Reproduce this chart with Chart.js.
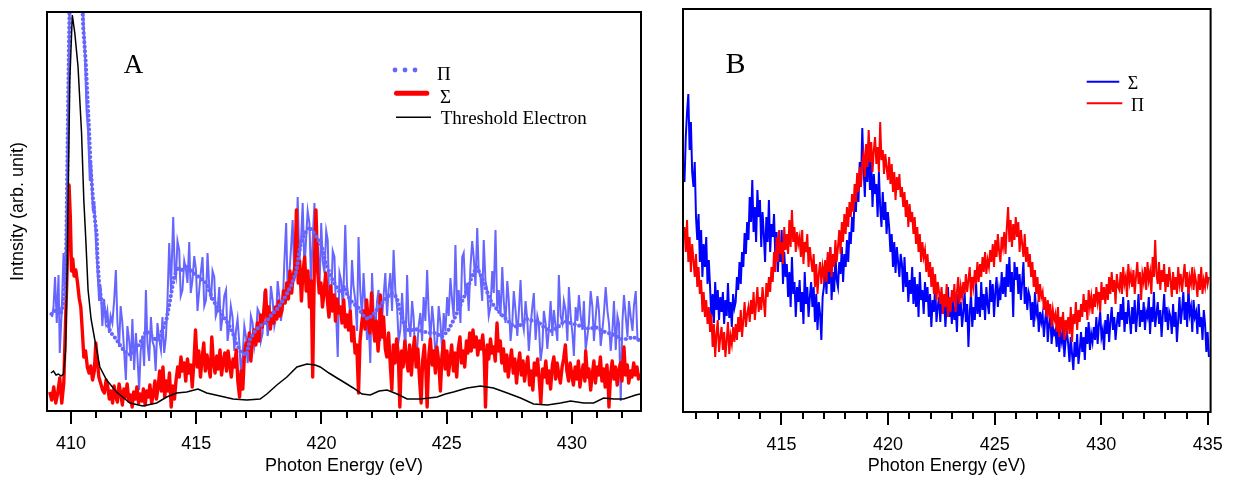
<!DOCTYPE html>
<html><head><meta charset="utf-8">
<script src="https://cdn.jsdelivr.net/npm/chart.js@4.4.1/dist/chart.umd.min.js"></script>
<style>
html,body{margin:0;padding:0;background:#fff;}
#wrap{position:relative;width:1238px;height:479px;overflow:hidden;background:#fff;}
#cA{position:absolute;left:0;top:0;}
#cB{position:absolute;left:660px;top:0;}
</style></head><body>
<div id="wrap"><canvas id="cA" width="660" height="479"></canvas><canvas id="cB" width="578" height="479"></canvas></div>
<script>
// ---------- Tick labels ----------
const A_TICK_LABELS = [410, 415, 420, 425, 430];
const B_TICK_LABELS = [415, 420, 425, 430, 435];

// ---------- Panel A data: [energy, intensity] pairs ----------
const piRawA = [
409.24,94, 409.30,104, 409.36,134, 409.43,88, 409.50,136, 409.55,58, 409.63,101, 409.70,158, 409.76,120, 409.83,200,
409.90,330, 409.96,430, 410.10,460, 410.30,450, 410.45,420, 410.55,360, 410.62,300, 410.68,280, 410.75,230, 410.80,250,
410.87,200, 410.93,210, 410.99,170, 411.05,144, 411.12,110, 411.18,125, 411.25,85, 411.32,112, 411.38,90, 411.45,100,
411.52,78, 411.58,95, 411.65,88, 411.72,110, 411.79,141, 411.85,90, 411.92,64, 411.98,105, 412.05,88, 412.12,60,
412.19,31, 412.25,85, 412.32,71, 412.39,50, 412.45,92, 412.52,41, 412.59,78, 412.65,55, 412.72,21, 412.78,60,
412.85,74, 412.92,45, 412.99,121, 413.05,68, 413.12,50, 413.19,94, 413.25,70, 413.32,64, 413.38,40, 413.45,88,
413.52,72, 413.59,61, 413.65,94, 413.72,58, 413.79,74, 413.85,110, 413.92,168, 413.99,121, 414.08,194, 414.14,140,
414.19,134, 414.25,170, 414.32,161, 414.38,115, 414.45,121, 414.52,150, 414.59,141, 414.65,128, 414.72,169, 414.78,118,
414.85,131, 414.92,155, 414.99,141, 415.05,100, 415.12,121, 415.18,138, 415.25,154, 415.32,105, 415.39,111, 415.45,158,
415.52,125, 415.59,111, 415.65,140, 415.72,134, 415.78,95, 415.85,101, 415.92,124, 415.98,80, 416.05,94, 416.12,115,
416.19,121, 416.25,70, 416.32,84, 416.38,105, 416.45,94, 416.52,60, 416.59,81, 416.65,92, 416.72,68, 416.78,40,
416.85,54, 416.92,85, 416.99,74, 417.05,48, 417.12,61, 417.18,95, 417.25,88, 417.32,65, 417.39,78, 417.45,102,
417.52,98, 417.58,70, 417.65,78, 417.72,120, 417.79,104, 417.85,75, 417.92,88, 417.98,125, 418.05,111, 418.12,85,
418.19,94, 418.25,130, 418.32,114, 418.38,90, 418.45,104, 418.52,150, 418.59,188, 418.65,120, 418.72,138, 418.79,165,
418.85,191, 418.92,130, 418.99,154, 419.05,214, 419.12,150, 419.19,174, 419.25,208, 419.32,140, 419.39,174, 419.45,200,
419.52,188, 419.58,130, 419.65,171, 419.72,208, 419.78,145, 419.85,168, 419.92,120, 419.99,188, 420.05,150, 420.12,138,
420.19,180, 420.25,171, 420.32,95, 420.39,114, 420.45,160, 420.52,154, 420.58,100, 420.65,54, 420.72,138, 420.79,130,
420.86,100, 420.95,186, 421.02,125, 421.08,114, 421.15,95, 421.22,151, 421.28,125, 421.35,111, 421.42,80, 421.48,174,
421.55,120, 421.62,94, 421.68,138, 421.75,105, 421.82,71, 421.88,92, 421.95,48, 422.02,138, 422.08,100, 422.15,81,
422.22,110, 422.28,121, 422.35,70, 422.42,91, 422.48,115, 422.55,138, 422.62,95, 422.68,121, 422.75,138, 422.82,100,
422.88,161, 422.95,120, 423.02,104, 423.08,70, 423.15,81, 423.22,118, 423.28,88, 423.35,60, 423.42,136, 423.48,90,
423.55,74, 423.62,110, 423.68,94, 423.75,50, 423.82,61, 423.88,85, 423.95,98, 424.02,70, 424.08,114, 424.15,90,
424.22,141, 424.28,100, 424.35,71, 424.42,105, 424.48,88, 424.55,55, 424.62,71, 424.68,105, 424.75,88, 424.82,60,
424.88,98, 424.95,80, 425.02,114, 425.08,95, 425.15,133, 425.22,110, 425.28,94, 425.35,166, 425.42,100, 425.48,121,
425.55,88, 425.62,154, 425.68,158, 425.75,115, 425.82,128, 425.88,100, 425.95,144, 426.02,170, 426.08,154, 426.15,125,
426.22,183, 426.28,140, 426.35,134, 426.42,110, 426.48,171, 426.55,130, 426.62,121, 426.68,95, 426.75,104, 426.82,140,
426.88,118, 426.95,181, 427.02,100, 427.08,121, 427.15,95, 427.22,144, 427.28,110, 427.35,88, 427.42,130, 427.48,111,
427.55,70, 427.62,88, 427.68,120, 427.75,101, 427.82,75, 427.88,98, 427.95,131, 428.02,90, 428.08,81, 428.15,110,
428.22,91, 428.28,60, 428.35,85, 428.42,104, 428.48,118, 428.55,71, 428.62,95, 428.68,88, 428.75,50, 428.82,64,
428.88,100, 428.95,88, 429.02,62, 429.08,81, 429.15,110, 429.22,75, 429.28,101, 429.35,85, 429.42,70, 429.48,136,
429.55,95, 429.62,88, 429.68,110, 429.75,101, 429.82,70, 429.88,124, 429.95,95, 430.02,78, 430.08,55, 430.15,104,
430.22,90, 430.28,116, 430.35,95, 430.42,81, 430.48,110, 430.55,61, 430.62,75, 430.68,88, 430.75,120, 430.82,104,
430.88,70, 430.95,94, 431.02,115, 431.08,101, 431.15,65, 431.22,81, 431.28,98, 431.35,124, 431.42,100, 431.48,88,
431.55,60, 431.62,81, 431.68,110, 431.75,61, 431.82,95, 431.88,88, 431.95,10, 432.02,90, 432.08,116, 432.15,95,
432.22,74, 432.28,110, 432.35,94, 432.42,80, 432.48,106, 432.55,120, 432.62,71, 432.68,71
];

const piSmoothA = [
409.22,97, 409.35,100, 409.48,102, 409.60,98, 409.70,108, 409.76,125, 409.80,150, 409.84,220, 409.88,300, 409.92,370,
409.96,430, 410.10,470, 410.30,470, 410.45,410, 410.48,386, 410.59,348, 410.66,311, 410.72,281, 410.78,244, 410.88,211,
410.96,190, 411.02,178, 411.06,150, 411.12,128, 411.19,114, 411.30,104, 411.39,98, 411.46,86, 411.60,78, 411.80,72,
412.00,64, 412.20,58, 412.40,56, 412.60,62, 412.80,70, 413.00,80, 413.20,76, 413.40,70, 413.60,78, 413.80,90,
413.95,110, 414.10,132, 414.25,144, 414.40,140, 414.60,146, 414.80,140, 415.00,136, 415.20,132, 415.40,128, 415.60,115,
415.80,105, 416.00,98, 416.20,90, 416.40,82, 416.60,68, 416.80,58, 417.00,56, 417.15,72, 417.35,80, 417.55,85,
417.75,88, 418.00,96, 418.30,104, 418.55,114, 418.80,126, 419.00,140, 419.15,165, 419.30,176, 419.50,184, 419.65,180,
419.85,172, 420.00,166, 420.15,150, 420.35,136, 420.55,126, 420.75,118, 420.90,125, 421.05,115, 421.25,108, 421.45,104,
421.65,96, 421.85,92, 422.05,96, 422.30,104, 422.55,112, 422.80,118, 423.00,114, 423.15,100, 423.30,86, 423.50,80,
423.75,82, 424.00,80, 424.30,78, 424.55,78, 424.80,74, 425.05,80, 425.30,92, 425.55,106, 425.80,120, 426.00,134,
426.20,144, 426.40,134, 426.60,120, 426.80,108, 427.00,102, 427.20,96, 427.45,90, 427.70,84, 427.95,86, 428.20,92,
428.45,90, 428.70,88, 428.95,82, 429.20,80, 429.45,84, 429.70,90, 429.95,88, 430.20,86, 430.45,84, 430.70,82,
430.95,84, 431.20,80, 431.45,78, 431.70,76, 431.95,72, 432.20,72, 432.45,74, 432.67,71
];

const sigmaA = [
409.15,19, 409.23,11, 409.31,24, 409.39,8, 409.47,18, 409.55,33, 409.63,8, 409.71,28, 409.76,71, 409.82,121,
409.87,165, 409.92,226, 409.97,195, 410.02,140, 410.07,152, 410.12,135, 410.19,141, 410.26,128, 410.33,112, 410.39,104,
410.45,80, 410.51,54, 410.58,60, 410.65,44, 410.72,38, 410.79,45, 410.86,31, 410.93,40, 410.99,68, 411.05,50,
411.11,34, 411.18,28, 411.26,21, 411.33,18, 411.40,31, 411.46,25, 411.53,12, 411.59,20, 411.66,8, 411.72,25,
411.79,14, 411.85,9, 411.92,27, 411.98,18, 412.05,6, 412.11,22, 412.18,14, 412.24,27, 412.31,10, 412.37,16,
412.44,4, 412.50,19, 412.57,12, 412.63,24, 412.70,8, 412.76,17, 412.83,10, 412.89,22, 412.96,6, 413.02,20,
413.09,14, 413.15,26, 413.22,8, 413.28,16, 413.35,30, 413.41,12, 413.48,24, 413.54,40, 413.61,20, 413.67,44,
413.74,14, 413.80,30, 413.87,20, 413.93,38, 414.00,4, 414.06,25, 414.13,12, 414.19,30, 414.26,44, 414.32,34,
414.39,54, 414.45,40, 414.52,48, 414.58,30, 414.65,52, 414.71,38, 414.78,46, 414.84,24, 414.91,50, 414.97,81,
415.04,44, 415.10,60, 415.17,34, 415.23,52, 415.30,68, 415.36,40, 415.43,56, 415.49,45, 415.56,34, 415.62,74,
415.69,48, 415.75,38, 415.82,55, 415.88,42, 415.95,61, 416.01,36, 416.08,50, 416.14,58, 416.21,40, 416.27,60,
416.34,46, 416.40,34, 416.47,52, 416.53,44, 416.60,61, 416.66,30, 416.73,14, 416.79,40, 416.86,22, 416.92,55,
416.99,68, 417.05,61, 417.12,78, 417.18,50, 417.25,72, 417.31,81, 417.38,66, 417.44,88, 417.51,70, 417.57,96,
417.64,84, 417.70,100, 417.77,121, 417.83,90, 417.90,104, 417.96,82, 418.03,98, 418.09,88, 418.16,104, 418.22,92,
418.29,110, 418.35,95, 418.42,100, 418.48,120, 418.55,108, 418.61,128, 418.68,112, 418.74,140, 418.81,118, 418.87,135,
418.94,144, 419.00,201, 419.07,128, 419.13,150, 419.20,110, 419.26,138, 419.33,154, 419.39,120, 419.46,140, 419.52,104,
419.59,130, 419.65,34, 419.72,150, 419.78,201, 419.85,140, 419.91,118, 419.98,128, 420.04,104, 420.11,120, 420.17,138,
420.24,110, 420.30,94, 420.37,125, 420.43,100, 420.50,116, 420.56,90, 420.63,112, 420.69,98, 420.76,104, 420.82,88,
420.89,111, 420.95,84, 421.02,96, 421.08,81, 421.15,100, 421.21,70, 421.28,84, 421.34,58, 421.41,66, 421.48,18,
421.54,70, 421.61,88, 421.67,100, 421.74,82, 421.80,111, 421.87,90, 421.93,78, 422.00,118, 422.06,86, 422.13,70,
422.19,90, 422.26,60, 422.32,80, 422.35,116, 422.42,74, 422.48,94, 422.55,62, 422.61,54, 422.68,78, 422.74,50,
422.81,21, 422.87,66, 422.94,48, 423.00,72, 423.07,56, 423.13,4, 423.20,60, 423.26,44, 423.33,70, 423.39,52,
423.46,40, 423.52,66, 423.59,36, 423.65,58, 423.72,74, 423.78,44, 423.85,62, 423.91,34, 423.98,8, 424.04,50,
424.11,66, 424.17,40, 424.22,4, 424.29,56, 424.35,72, 424.42,46, 424.48,60, 424.55,38, 424.61,64, 424.68,50,
424.75,20, 424.81,54, 424.88,70, 424.94,42, 425.01,60, 425.07,36, 425.14,52, 425.20,66, 425.27,40, 425.33,58,
425.40,34, 425.46,62, 425.53,74, 425.59,48, 425.66,60, 425.72,44, 425.79,70, 425.85,58, 425.92,78, 425.98,60,
426.05,81, 426.11,64, 426.18,74, 426.24,56, 426.31,70, 426.37,62, 426.44,76, 426.50,54, 426.55,4, 426.62,66,
426.68,52, 426.75,72, 426.81,58, 426.88,64, 426.94,50, 427.01,88, 427.07,60, 427.14,70, 427.20,48, 427.27,62,
427.33,40, 427.40,56, 427.46,34, 427.53,50, 427.59,61, 427.66,38, 427.72,52, 427.79,28, 427.85,46, 427.92,58,
427.98,36, 428.05,50, 428.11,30, 428.18,44, 428.24,54, 428.31,26, 428.37,40, 428.44,21, 428.50,48, 428.57,36,
428.63,52, 428.70,30, 428.76,8, 428.83,42, 428.89,34, 428.96,50, 429.02,28, 429.09,40, 429.15,22, 429.22,46,
429.28,54, 429.35,32, 429.41,48, 429.48,36, 429.54,28, 429.61,44, 429.67,52, 429.74,66, 429.80,40, 429.87,30,
429.93,48, 430.00,36, 430.06,26, 430.13,44, 430.19,32, 430.26,50, 430.32,24, 430.39,38, 430.45,46, 430.52,30,
430.55,60, 430.62,34, 430.68,42, 430.75,21, 430.81,36, 430.88,50, 430.94,28, 431.01,44, 431.07,36, 431.14,54,
431.20,30, 431.27,42, 431.33,24, 431.40,46, 431.46,20, 431.48,4, 431.55,38, 431.61,50, 431.68,32, 431.74,44,
431.81,26, 431.87,40, 431.94,48, 432.00,30, 432.08,64, 432.14,36, 432.21,46, 432.27,28, 432.34,40, 432.40,34,
432.47,48, 432.53,36, 432.60,44, 432.66,32, 432.70,38
];

const thresholdA = [
409.20,38, 409.30,40, 409.40,36, 409.50,37, 409.60,35, 409.70,37, 409.78,60, 409.85,150, 409.95,330, 410.05,396,
410.15,378, 410.28,344, 410.42,278, 410.51,211, 410.59,171, 410.68,121, 410.80,92, 410.95,71, 411.15,44, 411.42,31,
411.82,19, 412.35,8, 412.87,5, 413.42,8, 413.82,14, 414.22,18, 414.62,19, 415.07,22, 415.42,18, 415.95,15,
416.47,12, 417.02,11, 417.55,12, 417.82,17, 418.22,26, 418.62,34, 419.02,44, 419.42,47, 419.75,46, 419.95,44,
420.30,38, 420.62,33, 420.95,28, 421.27,23, 421.62,17, 421.95,16, 422.30,20, 422.62,21, 423.02,17, 423.42,12,
423.95,12, 424.30,13, 424.62,14, 424.95,17, 425.27,19, 425.82,23, 426.35,25, 426.87,23, 427.42,18, 427.95,13,
428.47,7, 429.02,6, 429.55,8, 429.95,10, 430.47,8, 430.87,8, 431.27,13, 431.67,12, 432.07,12, 432.55,16, 432.72,17
];

// ---------- Panel B data: evenly spaced energies (start, step) ----------
const B_START_EV = 410.45;
const B_STEP_EV = 0.06;
const sigmaB = [
230,275,300,318,262,290,240,225,250,195,
172,198,150,182,135,168,145,175,128,152,
125,95,118,89,130,102,122,92,115,100,
120,88,112,96,129,94,110,85,118,104,
110,135,122,150,128,160,145,179,158,190,
172,215,190,232,180,205,170,222,195,212,
165,200,178,150,195,170,212,160,188,175,
198,155,180,140,170,150,182,128,160,135,
148,115,140,105,155,118,130,95,125,110,
132,100,120,88,140,108,125,95,115,130,
105,125,90,118,82,110,98,72,115,125,
145,118,155,128,165,112,140,120,158,132,
125,150,138,165,130,158,145,172,150,180,
168,195,180,215,200,235,210,250,228,284,
245,215,262,230,270,222,250,205,238,218,
228,195,240,205,185,220,192,210,178,200,
185,160,178,145,170,139,165,150,135,158,
148,120,155,125,140,110,132,118,145,108,
135,105,128,95,140,112,122,98,130,110,
125,95,118,85,112,100,128,90,105,115,
90,120,98,112,85,108,125,95,110,88,
115,92,105,80,118,96,110,85,100,120,
90,108,65,100,118,85,105,92,128,98,
115,95,130,102,118,92,125,108,98,132,
110,128,95,120,135,105,122,112,140,118,
135,115,148,125,155,120,140,95,150,132,
145,118,138,112,130,150,108,125,102,120,
115,92,110,85,120,98,105,80,100,90,
98,75,92,105,70,88,95,68,85,78,
82,65,90,60,78,70,85,55,72,80,
68,50,75,58,42,70,55,78,48,62,
80,60,75,52,85,68,90,62,78,70,
85,72,95,68,88,100,75,82,62,92,
78,98,70,90,105,82,95,72,88,100,
85,108,92,115,80,100,88,112,95,78,
105,88,112,80,98,118,85,102,90,110,
82,100,95,115,78,105,90,120,85,98,
110,88,102,75,98,118,90,105,82,100,
95,78,108,85,100,70,92,115,88,102,
120,92,110,85,125,98,105,80,112,95,
100,78,108,85,95,72,102,88,60,80,
55
];
const piB = [
185,160,192,150,175,140,168,152,135,158,
125,145,118,132,100,120,95,112,88,105,
80,98,65,88,55,78,92,60,75,85,
62,80,55,72,90,58,76,68,85,70,
88,72,95,80,102,75,92,110,85,98,
105,90,112,98,120,92,108,125,100,115,
102,125,110,95,129,115,135,120,145,130,
160,140,175,150,182,158,170,148,185,162,
178,158,192,165,202,170,185,160,180,168,
175,155,182,148,170,160,178,145,165,152,
140,158,125,148,118,138,150,128,145,135,
152,130,160,140,165,135,158,145,172,150,
165,182,158,190,170,198,178,205,185,210,
195,218,200,228,210,239,220,245,225,250,
258,235,268,245,282,250,270,240,262,275,
248,265,240,290,252,262,238,258,245,232,
255,228,248,220,240,212,235,222,238,215,
225,205,220,195,212,185,208,190,200,178,
195,168,185,160,178,150,170,155,162,140,
158,135,150,125,145,118,138,112,130,120,
108,125,98,118,105,128,95,115,100,122,
110,128,100,120,135,108,125,115,130,118,
138,120,132,145,115,135,125,142,128,150,
130,148,135,155,140,160,138,152,145,162,
150,168,145,172,155,178,160,150,175,165,
180,158,185,205,170,192,165,188,172,195,
175,190,160,182,168,155,178,150,165,145,
158,135,150,125,142,118,135,110,128,115,
120,102,115,95,112,98,108,85,102,92,
98,80,105,75,95,85,100,72,92,82,
95,78,105,70,98,88,110,82,102,90,
108,95,118,100,112,92,122,105,115,98,
118,105,125,110,120,100,130,112,125,108,
128,112,135,118,140,120,132,108,138,125,
122,140,118,145,128,135,115,148,130,138,
125,142,118,135,150,128,140,112,138,130,
145,122,150,132,140,118,155,135,172,138,
128,150,122,142,130,148,120,138,125,145,
132,115,140,122,135,118,145,128,138,120,
135,148,125,140,118,135,128,145,122,138,
130,115,138,122,145,118,132,125,140,128,
135
];

// ---------- helpers ----------
function pairs(flat) {
  const out = [];
  for (let i = 0; i + 1 < flat.length; i += 2) out.push({x: flat[i], y: flat[i + 1]});
  return out;
}
function gridSeries(start, step, vals) {
  return vals.map((v, i) => ({x: +(start + i * step).toFixed(3), y: v}));
}

Chart.defaults.font.family = "'Liberation Sans', Arial, sans-serif";
Chart.defaults.color = '#000';

const framePlugin = {
  id: 'frame',
  afterDatasetsDraw(chart, args, opts) {
    const {ctx, chartArea: a} = chart;
    ctx.save();
    ctx.strokeStyle = '#000';
    ctx.lineWidth = opts.width || 2;
    ctx.strokeRect(a.left, a.top, a.right - a.left, a.bottom - a.top);
    ctx.restore();
  }
};

const decorPlugin = {
  id: 'decor',
  afterDraw(chart, args, opts) {
    const ctx = chart.ctx;
    ctx.save();
    if (opts.letter) {
      ctx.font = opts.letter.font;
      ctx.fillStyle = '#000';
      ctx.textAlign = 'center';
      ctx.textBaseline = 'alphabetic';
      ctx.fillText(opts.letter.text, opts.letter.x, opts.letter.y);
    }
    for (const it of (opts.items || [])) {
      const ds = chart.data.datasets[it.dataset];
      ctx.strokeStyle = ds.borderColor;
      ctx.fillStyle = ds.borderColor;
      if (it.sample === 'dots') {
        for (const dx of it.dots) {
          ctx.beginPath();
          ctx.arc(dx, it.y, it.r, 0, Math.PI * 2);
          ctx.fill();
        }
      } else {
        ctx.lineWidth = it.w;
        ctx.lineCap = it.cap || 'butt';
        ctx.beginPath();
        ctx.moveTo(it.x1, it.y);
        ctx.lineTo(it.x2, it.y);
        ctx.stroke();
      }
      ctx.fillStyle = '#000';
      ctx.font = opts.legendFont;
      ctx.textAlign = 'left';
      ctx.textBaseline = 'alphabetic';
      ctx.fillText(ds.label, it.tx, it.ty);
    }
    ctx.restore();
  }
};

function xScales(min, max, labels, axisHeight) {
  const isLabel = v => labels.some(l => Math.abs(l - v) < 1e-6);
  return {
    xMajor: {
      type: 'linear', position: 'bottom', min, max, weight: 0,
      afterFit: s => { s.height = 0; },
      border: {display: false},
      grid: {drawOnChartArea: false, drawTicks: true, tickLength: 13, tickWidth: 2, tickColor: '#000', lineWidth: 2, color: '#000'},
      ticks: {display: false, stepSize: 5, includeBounds: false, autoSkip: false, maxTicksLimit: 1000}
    },
    x: {
      type: 'linear', position: 'bottom', min, max, weight: 1,
      afterFit: s => { s.height = axisHeight; },
      border: {display: false},
      grid: {drawOnChartArea: false, drawTicks: true, tickLength: 7, tickWidth: 2, tickColor: '#000', lineWidth: 2, color: '#000'},
      ticks: {stepSize: 1, includeBounds: false, autoSkip: false, maxRotation: 0, minRotation: 0, maxTicksLimit: 1000,
        padding: 15, color: '#000', font: {size: 18},
        callback: v => isLabel(v) ? String(Math.round(v)) : ''},
      title: {display: true, text: 'Photon Energy (eV)', color: '#000', font: {size: 18}, padding: {top: 0, bottom: 2}}
    }
  };
}

const commonLine = {pointRadius: 0, tension: 0, fill: false, clip: 0};

// ---------- Chart A ----------
new Chart(document.getElementById('cA'), {
  type: 'line',
  data: {
    datasets: [
      Object.assign({label: 'Π raw', data: pairs(piRawA), borderColor: '#6666FF', borderWidth: 2, order: 4}, commonLine),
      Object.assign({label: 'Σ', data: pairs(sigmaA), borderColor: '#FF0000', borderWidth: 3.4, borderJoinStyle: 'round', order: 3}, commonLine),
      Object.assign({label: 'Π', data: pairs(piSmoothA), borderColor: '#6666FF', borderWidth: 4.2, borderDash: [0, 4.6], borderCapStyle: 'round', borderJoinStyle: 'round', order: 2}, commonLine),
      Object.assign({label: 'Threshold Electron', data: pairs(thresholdA), borderColor: '#000000', borderWidth: 1.5, order: 1}, commonLine)
    ]
  },
  options: {
    responsive: false, devicePixelRatio: 1, animation: false, events: [],
    layout: {padding: {left: 0, top: 12, right: 19, bottom: 0}},
    scales: Object.assign(xScales(409.04, 432.76, A_TICK_LABELS, 68), {
      y: {
        type: 'linear', position: 'left', min: 0, max: 399,
        afterFit: s => { s.width = 47; },
        border: {display: false}, grid: {display: false}, ticks: {display: false},
        title: {display: true, text: 'Intnsity (arb. unit)', color: '#000', font: {size: 18}, padding: {top: 7, bottom: 0}}
      }
    }),
    plugins: {
      legend: {display: false}, tooltip: {enabled: false},
      frame: {width: 2},
      decor: {
        letter: {text: 'A', x: 133.5, y: 72.7, font: "27px 'Liberation Serif', 'Times New Roman', serif"},
        legendFont: "19px 'Liberation Serif', 'Times New Roman', serif",
        items: [
          {dataset: 2, sample: 'dots', dots: [395, 405, 415], r: 2.4, y: 70, tx: 437, ty: 80},
          {dataset: 1, sample: 'line', x1: 396.5, x2: 426.8, y: 93.3, w: 5, cap: 'round', tx: 440, ty: 103},
          {dataset: 3, sample: 'line', x1: 396, x2: 431, y: 117.3, w: 1.5, tx: 440.7, ty: 124}
        ]
      }
    }
  },
  plugins: [framePlugin, decorPlugin]
});

// ---------- Chart B ----------
new Chart(document.getElementById('cB'), {
  type: 'line',
  data: {
    datasets: [
      Object.assign({label: 'Σ', data: gridSeries(B_START_EV, B_STEP_EV, sigmaB), borderColor: '#0000FF', borderWidth: 2, order: 1}, commonLine),
      Object.assign({label: 'Π', data: gridSeries(B_START_EV, B_STEP_EV, piB), borderColor: '#FF0000', borderWidth: 2, order: 0}, commonLine)
    ]
  },
  options: {
    responsive: false, devicePixelRatio: 1, animation: false, events: [],
    layout: {padding: {left: 23, top: 9, right: 23, bottom: 0}},
    scales: Object.assign(xScales(410.38, 435.13, B_TICK_LABELS, 67), {
      y: {type: 'linear', display: false, min: 0, max: 403}
    }),
    plugins: {
      legend: {display: false}, tooltip: {enabled: false},
      frame: {width: 2},
      decor: {
        letter: {text: 'B', x: 75.5, y: 72.7, font: "30px 'Liberation Serif', 'Times New Roman', serif"},
        legendFont: "18px 'Liberation Serif', 'Times New Roman', serif",
        items: [
          {dataset: 0, sample: 'line', x1: 426.7, x2: 459.3, y: 81.7, w: 2, tx: 467.7, ty: 89},
          {dataset: 1, sample: 'line', x1: 426.7, x2: 462.3, y: 103.3, w: 2, tx: 471, ty: 110.7}
        ]
      }
    }
  },
  plugins: [framePlugin, decorPlugin]
});
</script></body></html>
